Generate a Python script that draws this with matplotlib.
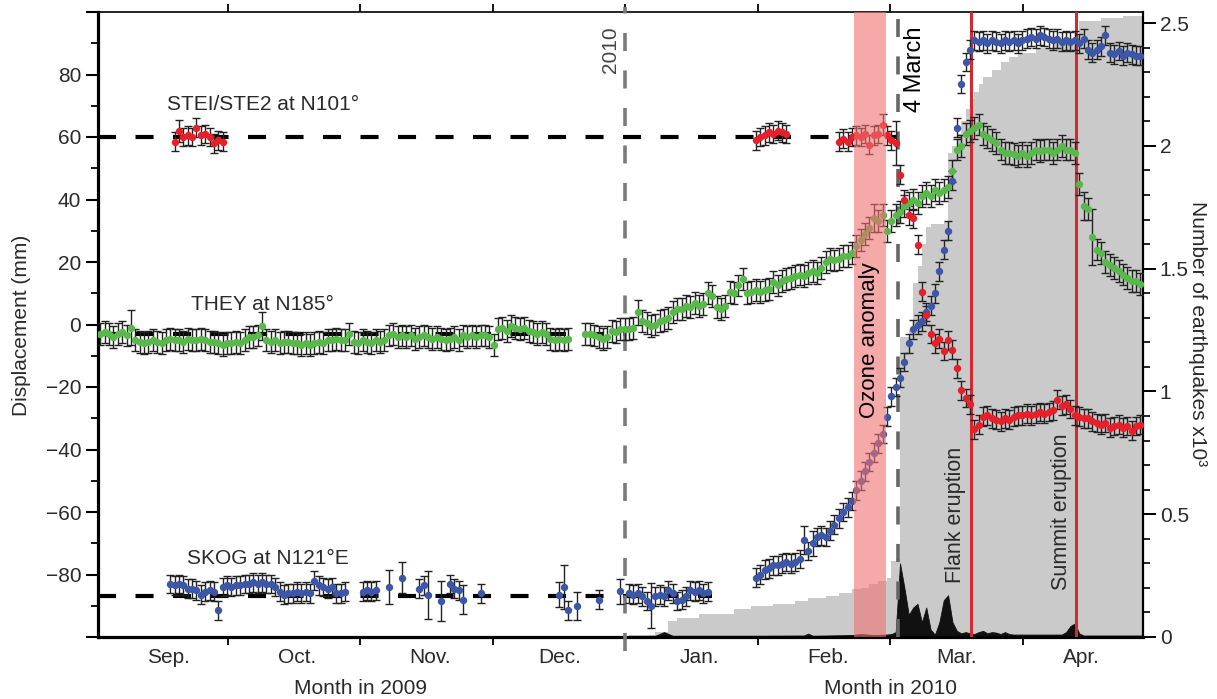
import matplotlib.pyplot as plt
from matplotlib.ticker import MultipleLocator, FixedLocator, FixedFormatter

plt.rcParams['font.family'] = ['Liberation Sans', 'DejaVu Sans']
plt.rcParams['lines.scale_dashes'] = False

# x unit: day counted from 1 Sep 2009
month_ticks = [30.2, 60.5, 90.8, 121.1, 151.5, 181.8, 212.1]
month_names = ['Sep.', 'Oct.', 'Nov.', 'Dec.', 'Jan.', 'Feb.', 'Mar.', 'Apr.']
month_label_pos = [16.5, 46, 76.5, 106, 138, 167.5, 197, 225.5]

# THEY at N185 (green)
they_days = list(range(1, 109)) + list(range(112, 240))
they_vals = [
    -3, -2.5, -3, -4, -3, -2.5, -3.5, -1, -5, -5.5,
    -6, -5.5, -5, -5.5, -6, -5, -4.5, -5, -5, -5.5,
    -4.5, -5, -5, -4.5, -5, -5.5, -5.5, -6, -6.5, -6,
    -6, -5.5, -6, -5, -4, -4, -3.5, -0.5, -5, -5.5,
    -5, -6, -5.5, -5.5, -6, -6, -6.5, -6, -6.5, -6,
    -5.5, -6, -5, -5, -4.5, -5, -5, -3, -5.5, -6,
    -5, -5.5, -6, -5, -5.5, -5, -3.5, -3, -4, -3.5,
    -4, -3.5, -4.5, -4, -3.5, -4, -4.5, -4, -4.5, -5,
    -4.5, -4, -5, -3.5, -4, -3.5, -4, -3.5, -3.5, -4,
    -6.5, -1.5, -1, -2, -0.5, -1, -1.5, -1, -2, -2.5,
    -3, -2.5, -3, -4.5, -5, -4.5, -5, -4.5,
    # 2010
    -3, -3, -3.5, -4, -4.5, -4, -2, -2.5, -1.5, -1.5,
    -1.3, -1, 4, 1, 0.5, -0.5, 0, 1, 1.5, 2,
    4, 5, 5, 6, 5.5, 7, 6, 6.5, 10, 9,
    5.5, 5, 6, 10.5, 10, 12.5, 14.5, 10, 10.5, 11,
    10.5, 11, 11.5, 13.5, 12.5, 14, 14.5, 15, 15.5, 16,
    15.5, 16.5, 17, 16.5, 18, 20, 21, 20.5, 21, 22,
    22, 23, 25, 27, 29, 31, 34, 33, 35, 30,
    33, 35, 36, 38, 39, 40, 39, 41, 42, 41,
    43, 42, 43, 44, 49, 56, 57, 61, 62, 63,
    64, 61, 60, 59, 58, 56, 55, 55, 54.5, 54,
    55, 54, 55, 56, 55.5, 56, 56, 55, 56, 57,
    56, 56, 55, 45, 38, 37, 28, 24, 23, 20,
    19, 18, 17, 16, 15, 14, 14, 13,
]
they_err_default = 3.5
they_err_big = {8: 5.5, 38: 4.5, 124: 4, 178: 4.5, 226: 4.5, 228: 9}

# SKOG at N121E (blue)
skog_days = (list(range(17, 58))
             + [61, 62, 63, 64, 67, 70, 74, 75, 76, 79, 81, 82, 83, 84, 88,
                106, 107, 108, 110, 115, 120]
             + list(range(122, 141)) + list(range(151, 240)))
skog_vals = [
    -83, -83.5, -83, -83.5, -84.5, -84.5, -85, -86.5, -85.5, -85,
    -85.5, -91.5, -84, -83.5, -84, -83.5, -83.5, -83, -83, -82.5,
    -83, -82.5, -83, -83, -84, -85.5, -86.5, -86, -86, -85.5,
    -86, -85.5, -86, -82, -83.5, -84, -84.5, -84, -86, -86, -85.5,
    -85.5, -85, -85.5, -85, -84, -81, -84.5, -83.5, -86.5, -88.5,
    -83, -84.5, -85, -88, -86, -86.5, -84, -91.5, -90, -88, -85.3,
    -86, -86.5, -86, -87, -88.5, -90, -87, -86.5, -87, -85,
    -86, -88.5, -88, -87, -85, -85.5, -85, -86, -85.5,
    -81, -80, -78.5, -78, -77, -77, -76.5, -76, -76.5, -76,
    -75, -69, -72.5, -70, -68, -67.5, -68, -66, -64, -62,
    -60, -58.5, -56.5, -53, -50, -47, -44, -41, -38, -35,
    -29.5, -23, -20, -17, -12, -6, -1.5, 0, 1, 4,
    6, 10, 17, 24, 30, 46, 63, 77, 84, 88,
    91, 90.5, 91, 90, 91, 90.5, 90, 91, 90.5, 91,
    90, 91, 91.5, 92, 91.5, 92.5, 92, 91.5, 91, 91.5,
    90.5, 91, 90.5, 91, 90, 91.5, 88, 87, 88, 89,
    92.5, 87, 86.5, 87.5, 86, 87, 86.5, 86, 86,
]
skog_err_default = 3.0
skog_err_big = {67: 5.5, 70: 5, 76: 7.7, 79: 6.3, 84: 4.5, 106: 4, 107: 7,
                110: 4.4, 120: 4, 127: 7.2, 162: 4.5, 164: 4}

# STEI/STE2 at N101 (red)
stei_days = list(range(18, 30)) + list(range(151, 159)) + list(range(170, 240))
stei_vals = [
    58.5, 62, 60, 60.5, 60, 63, 60.5, 61, 60, 58, 59, 58.5,
    59, 60, 60.5, 61.5, 61, 62, 61.5, 61,
    58.5, 59.5, 58.5, 60, 60.5, 60, 61, 57.5, 60.5, 61,
    64, 60.5, 59, 58, 48, 40, 35, 34, 25.5, 10.5,
    3, -3, -6, -4.5, -8.5, -5, -8, -14, -21, -23.5,
    -25.5, -33.5, -32, -29.5, -29, -30, -30.5, -31, -30, -30.5,
    -29.5, -29, -29, -28.5, -29, -28.5, -28, -28.5, -28, -27.5,
    -24, -26, -25.5, -27, -29, -29.5, -30, -30, -31, -31.5,
    -32, -31.5, -33, -32.5, -32, -33, -32.5, -34, -32.5, -32,
]
stei_err_default = 3.0
stei_err_big = {19: 3.5, 180: 3.5, 183: 7}

# reference levels of the stations
they_base = -3
skog_base = -87
stei_base = 60

# seismicity: cumulative count (x10^3) and daily count
cum_days = [0, 100, 122, 128, 131, 133, 138, 146, 150, 155, 160, 163, 167, 170,
            173, 175, 177, 179, 181, 182, 183, 184, 186, 187, 188, 189, 190,
            191, 194, 195, 196, 197, 198, 199, 200, 201, 202, 203, 205, 207,
            209, 211, 215, 219, 222, 224, 225, 230, 235, 240]
cum_vals = [0.0, 0.004, 0.01, 0.02, 0.065, 0.078, 0.094, 0.114, 0.127, 0.135,
            0.147, 0.16, 0.167, 0.18, 0.195, 0.2, 0.216, 0.23, 0.24, 0.31,
            0.318, 1.22, 1.25, 1.44, 1.51, 1.6, 1.67, 1.68, 1.69, 1.97, 2.0,
            2.05, 2.1, 2.15, 2.19, 2.22, 2.25, 2.28, 2.31, 2.34, 2.36, 2.38,
            2.40, 2.42, 2.44, 2.45, 2.51, 2.52, 2.53, 2.53]

eq_days = [0, 120, 128, 130, 132, 150, 162, 163, 164, 173, 175, 178, 181, 182,
           183, 184, 185, 186, 187, 188, 189, 190, 191, 192, 193, 194, 195,
           196, 197, 198, 199, 200, 201, 202, 203, 204, 205, 206, 207, 208,
           209, 210, 221, 222, 223, 224, 225, 226, 240]
eq_vals = [0.003, 0.003, 0.005, 0.02, 0.005, 0.005, 0.006, 0.014, 0.005, 0.008,
           0.012, 0.008, 0.01, 0.012, 0.02, 0.3, 0.2, 0.09, 0.12, 0.135, 0.06,
           0.12, 0.03, 0.01, 0.06, 0.15, 0.17, 0.06, 0.025, 0.015, 0.02,
           0.015, 0.012, 0.02, 0.025, 0.015, 0.02, 0.018, 0.012, 0.02, 0.012,
           0.01, 0.01, 0.02, 0.045, 0.055, 0.015, 0.006, 0.006]

# events
jan1 = 121.1
march4 = 183.6
ozone_start, ozone_end = 173.5, 180.8
flank = 200.2
summit = 224.3

GREEN = '#58b84a'
BLUE = '#3c56a8'
RED = '#e61f2b'
TXT = '#2a2a2a'


def errors(days, default, big):
    return [big.get(d, default) for d in days]


fig = plt.figure(figsize=(12.17, 6.99), dpi=100)
ax = fig.add_axes([98 / 1217, 1 - 637 / 699, 1045 / 1217, 625 / 699])
ax2 = ax.twinx()
ax.set_zorder(ax2.get_zorder() + 1)
ax.patch.set_visible(False)

# earthquakes on the right axis
ax2.fill_between(cum_days, 0, cum_vals, step='post', color='#cacaca', lw=0)
ax2.fill_between(eq_days, 0, eq_vals, color='#111111', lw=0.6)
ax2.set_ylim(0, 2.545)
ax2.yaxis.set_major_locator(FixedLocator([0, 0.5, 1, 1.5, 2, 2.5]))
ax2.yaxis.set_major_formatter(FixedFormatter(['0', '0.5', '1', '1.5', '2', '2.5']))
ax2.yaxis.set_minor_locator(MultipleLocator(0.1))
ax2.tick_params(axis='y', which='major', direction='out', length=9, width=1.4,
                labelsize=15, labelcolor=TXT, pad=3)
ax2.tick_params(axis='y', which='minor', direction='out', length=5, width=1.2)
for s in ['left', 'top', 'bottom']:
    ax2.spines[s].set_visible(False)
ax2.spines['right'].set_linewidth(1.6)

# baselines
dash = (13, 14)
ax.plot([0.5, march4], [stei_base, stei_base], color='black', lw=3, dashes=dash, zorder=3)
ax.plot([0.5, jan1], [they_base, they_base], color='black', lw=3, dashes=dash, zorder=3)
ax.plot([0.5, 141], [skog_base, skog_base], color='black', lw=3, dashes=dash, zorder=3)

# event lines
ax.plot([jan1, jan1], [-104.5, 101.5], color='#7a7a7a', lw=2.6, dashes=dash,
        clip_on=False, zorder=3)
ax.plot([march4, march4], [-100, 100], color='#666666', lw=2.6, dashes=dash, zorder=3)
ax.axvline(flank, color='#d42a2f', lw=2.2, zorder=3)
ax.axvline(summit, color='#d42a2f', lw=2.2, zorder=3)

# GPS series
for days, vals, err, col in [
        (skog_days, skog_vals, errors(skog_days, skog_err_default, skog_err_big), BLUE),
        (they_days, they_vals, errors(they_days, they_err_default, they_err_big), GREEN),
        (stei_days, stei_vals, errors(stei_days, stei_err_default, stei_err_big), RED)]:
    ax.errorbar(days, vals, yerr=err, fmt='o', ms=4.3, color=col, mec=col,
                ecolor='#222222', elinewidth=1.0, capsize=2.8, capthick=1.0, zorder=4)

ax.axvspan(ozone_start, ozone_end, color='#f07070', alpha=0.6, lw=0, zorder=5)

# labels inside the plot
ax.text(38.2, 70.3, 'STEI/STE2 at N101°', fontsize=15, color=TXT, ha='center', va='center', zorder=6)
ax.text(38, 6.4, 'THEY at N185°', fontsize=15, color=TXT, ha='center', va='center', zorder=6)
ax.text(39.4, -74.8, 'SKOG at N121°E', fontsize=15, color=TXT, ha='center', va='center', zorder=6)
ax.text(117.8, 88, '2010', fontsize=15, color='#444444', rotation=90, ha='center', va='center', zorder=6)
ax.text(187.4, 81.8, '4 March', fontsize=17, color='black', rotation=90, ha='center', va='center', zorder=6)
ax.text(177, -5, 'Ozone anomaly', fontsize=16, color='black', rotation=90, ha='center', va='center', zorder=6)
ax.text(196.6, -61, 'Flank eruption', fontsize=15.5, color=TXT, rotation=90, ha='center', va='center', zorder=6)
ax.text(221, -60, 'Summit eruption', fontsize=15.5, color=TXT, rotation=90, ha='center', va='center', zorder=6)

# axes
ax.set_xlim(0.46, 239.6)
ax.set_ylim(-100, 100)
ax.set_yticks(list(range(-100, 101, 20)))
ax.set_yticklabels(['' if abs(v) == 100 else f'{v}'.replace('-', '\u2212')
                    for v in range(-100, 101, 20)])
ax.yaxis.set_minor_locator(MultipleLocator(10))
ax.tick_params(axis='y', which='major', direction='out', length=9, width=1.5,
               labelsize=15, labelcolor=TXT, pad=3, right=False)
ax.tick_params(axis='y', which='minor', direction='out', length=5, width=1.3, right=False)

ax.set_xticks(month_ticks)
ax.set_xticklabels([''] * len(month_ticks))
ax.set_xticks(month_label_pos, minor=True)
ax.set_xticklabels(month_names, minor=True)
ax.tick_params(axis='x', which='major', direction='out', length=6, width=1.3, top=True)
ax.tick_params(axis='x', which='minor', length=0, labelsize=15, labelcolor=TXT, pad=8)

ax.spines['left'].set_linewidth(2.3)
ax.spines['bottom'].set_linewidth(2.3)
ax.spines['top'].set_linewidth(1.2)
ax.spines['right'].set_visible(False)

xt = ax.get_xaxis_transform()
ax.text(60.5, -0.082, 'Month in 2009', transform=xt, fontsize=15, color=TXT,
        ha='center', va='center')
ax.text(181.8, -0.082, 'Month in 2010', transform=xt, fontsize=15, color=TXT,
        ha='center', va='center')

fig.text(22 / 1217, 1 - 325 / 699, 'Displacement (mm)', rotation=90, fontsize=15,
         color=TXT, ha='center', va='center')
fig.text(1198 / 1217, 1 - 334 / 699, 'Number of earthquakes x10³', rotation=270,
         fontsize=15, color=TXT, ha='center', va='center')

fig.savefig('out.png', dpi=100)
